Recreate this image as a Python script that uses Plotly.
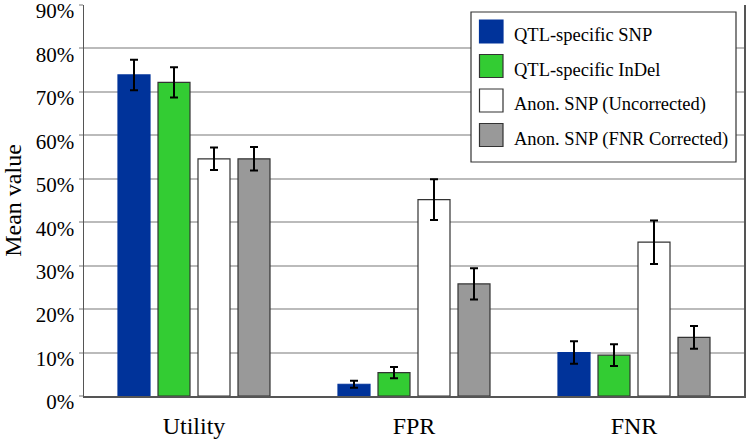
import plotly.graph_objects as go

categories = ["Utility", "FPR", "FNR"]
series_names = ["QTL-specific SNP", "QTL-specific InDel",
                "Anon. SNP (Uncorrected)", "Anon. SNP (FNR Corrected)"]
qtl_snp = [0.739, 0.027, 0.100]
qtl_snp_err = [0.035, 0.008, 0.026]
qtl_indel = [0.722, 0.054, 0.094]
qtl_indel_err = [0.035, 0.013, 0.025]
anon_unc = [0.546, 0.452, 0.354]
anon_unc_err = [0.026, 0.047, 0.050]
anon_fnr = [0.546, 0.258, 0.135]
anon_fnr_err = [0.027, 0.036, 0.026]
y_ticks = [0, 0.1, 0.2, 0.3, 0.4, 0.5, 0.6, 0.7, 0.8, 0.9]

colors = ["#00339a", "#33cc33", "#ffffff", "#999999"]
outlines = ["#00339a", "#333333", "#333333", "#333333"]
values = [qtl_snp, qtl_indel, anon_unc, anon_fnr]
errors = [qtl_snp_err, qtl_indel_err, anon_unc_err, anon_fnr_err]

W, H = 748, 442
ML, MR, MT, MB = 84, 4, 5, 46
PW, PH = W - ML - MR, H - MT - MB

fig = go.Figure()
for name, v, e, c, o in zip(series_names, values, errors, colors, outlines):
    fig.add_trace(go.Bar(
        x=categories, y=v, name=name,
        marker=dict(color=c, line=dict(color=o, width=1.2)),
        error_y=dict(type="data", array=e, visible=True, color="#000000",
                     thickness=2, width=4),
        showlegend=False,
    ))

def px_x(p):
    return (p - ML) / PW

def px_y(p):
    return (H - MB - p) / PH

# manual legend
shapes = [dict(type="rect", xref="paper", yref="paper",
               x0=px_x(471), x1=px_x(736), y0=px_y(162), y1=px_y(12),
               fillcolor="white", line=dict(color="#333333", width=1.2),
               layer="above")]
annotations = []
row_centers = [31.5, 66, 100.5, 135]
for name, c, yc in zip(series_names, colors, row_centers):
    shapes.append(dict(type="rect", xref="paper", yref="paper",
                       x0=px_x(479.5), x1=px_x(503), y0=px_y(yc + 11.5),
                       y1=px_y(yc - 11.5), fillcolor=c,
                       line=dict(color="#333333" if c != colors[0] else c, width=1.2),
                       layer="above"))
    annotations.append(dict(xref="paper", yref="paper", x=px_x(512),
                            y=px_y(yc + 4), text=name, showarrow=False,
                            xanchor="left", yanchor="middle",
                            font=dict(family="Liberation Serif", size=18.5,
                                      color="#000000")))

fig.update_layout(
    width=W, height=H,
    margin=dict(l=ML, r=MR, t=MT, b=MB, pad=0, autoexpand=False),
    paper_bgcolor="white", plot_bgcolor="white",
    barmode="group", bargap=0.2727, bargroupgap=0.2,
    font=dict(family="Liberation Serif", color="#000000"),
    shapes=shapes, annotations=annotations,
    xaxis=dict(showline=True, linecolor="#555555", linewidth=1.5,
               showgrid=False, ticks="", automargin=False,
               ticklabelstandoff=8,
               tickfont=dict(family="Liberation Serif", size=24, color="#000000")),
    yaxis=dict(range=[0, 0.9], tickvals=y_ticks, tickformat=".0%",
               showline=True, linecolor="#555555", linewidth=1.5, mirror=True,
               showgrid=True, gridcolor="#bbbbbb", gridwidth=2,
               ticks="outside", ticklen=4, tickcolor="#bbbbbb", tickwidth=2,
               zeroline=False, automargin=False,
               ticklabelshift=6, ticklabeloverflow="allow",
               tickfont=dict(family="Liberation Serif", size=21, color="#000000"),
               title=dict(text="Mean value", standoff=13,
                          font=dict(family="Liberation Serif", size=24,
                                    color="#000000"))),
)

fig.write_html("out.html",
               config={"displayModeBar": False, "staticPlot": True},
               post_script="document.body.style.margin='0';"
                           "document.body.style.overflow='hidden';")
